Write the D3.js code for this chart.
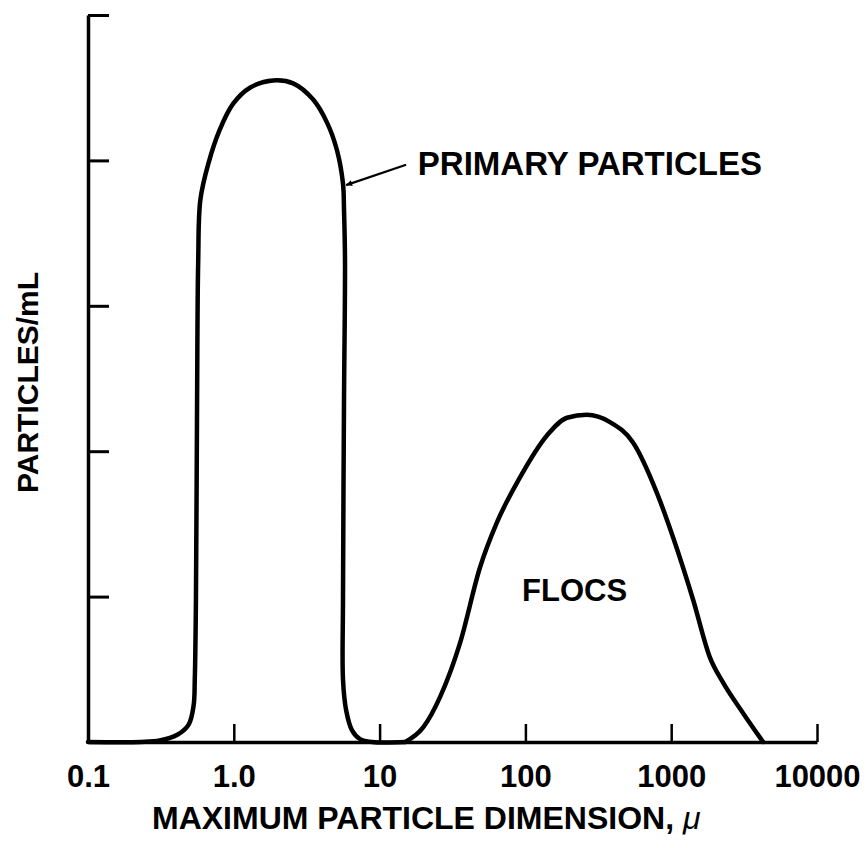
<!DOCTYPE html>
<html>
<head>
<meta charset="utf-8">
<script src="https://cdn.jsdelivr.net/npm/d3@7"></script>
<style>
  body { margin: 0; background: #fff; }
  svg text { font-family: "Liberation Sans", Arial, Helvetica, sans-serif; font-weight: bold; fill: #000; }
</style>
</head>
<body>
<svg id="chart"></svg>
<script>
// particle size (microns) and relative count
const primarySize = [0.1, 0.23, 0.31, 0.41, 0.49, 0.53, 0.54, 0.55, 0.56, 0.57, 0.59, 0.67, 0.80, 0.99, 1.29, 1.86, 2.55, 3.49, 4.36, 5.10, 5.61, 5.70, 5.79, 5.70, 5.61, 5.61, 5.89, 6.47, 7.34, 8.9, 15.0];
const primaryCount = [0, 0, 0.01, 0.05, 0.12, 0.25, 0.43, 0.98, 2.35, 3.31, 3.73, 3.98, 4.21, 4.39, 4.50, 4.55, 4.53, 4.42, 4.26, 4.07, 3.84, 3.66, 3.31, 2.35, 0.98, 0.43, 0.22, 0.08, 0.02, 0, 0];
const flocSize = [15.0, 19.9, 26.0, 35.6, 48.8, 63.8, 91.8, 141, 193, 264, 380, 547, 800, 1028, 1412, 1845, 2265, 3105, 4270];
const flocCount = [0, 0.10, 0.31, 0.68, 1.20, 1.51, 1.82, 2.11, 2.23, 2.25, 2.20, 2.06, 1.71, 1.41, 0.98, 0.58, 0.41, 0.20, 0];

const xTicks = [0.1, 1, 10, 100, 1000, 10000];
const xTickLabels = ["0.1", "1.0", "10", "100", "1000", "10000"];
const yTicks = [1, 2, 3, 4, 5];

const labels = [
  { text: "PRIMARY PARTICLES", x: 18.3, y: 3.90, size: 33 },
  { text: "FLOCS", x: 94.8, y: 0.97, size: 31 }
];
const arrowFrom = { x: 15.2, y: 3.97 };
const arrowTo = { x: 5.89, y: 3.83 };

const width = 867, height = 848;
const margin = { top: 15, right: 50, bottom: 106, left: 88 };

const svg = d3.select("#chart").attr("width", width).attr("height", height);

const x = d3.scaleLog().domain([0.1, 10000]).range([margin.left, width - margin.right]);
const y = d3.scaleLinear().domain([0, 5]).range([height - margin.bottom, margin.top]);

// axes
const xAxis = svg.append("g")
  .attr("transform", `translate(0,${y(0)})`)
  .call(d3.axisBottom(x).tickValues(xTicks).tickSize(-18).tickSizeOuter(0)
    .tickFormat((d, i) => xTickLabels[i]));
xAxis.select(".domain").attr("stroke-width", 3.5);
xAxis.selectAll(".tick line").attr("stroke-width", 2.5);
xAxis.selectAll(".tick text")
  .attr("y", 45).attr("dy", null)
  .style("font-size", "31px");

const yAxis = svg.append("g")
  .attr("transform", `translate(${x(0.1)},0)`)
  .call(d3.axisLeft(y).tickValues(yTicks).tickSize(-21).tickSizeOuter(0).tickFormat(""));
yAxis.select(".domain").attr("stroke-width", 3.5);
yAxis.selectAll(".tick line").attr("stroke-width", 3);

// axis titles
svg.append("text")
  .attr("x", 152).attr("y", 829)
  .style("font-size", "32px")
  .text("MAXIMUM PARTICLE DIMENSION, ")
  .append("tspan")
  .style("font-style", "italic").style("font-weight", "normal")
  .text("\u03bc");

svg.append("text")
  .attr("transform", `translate(38,${(y(0) + y(5)) / 2 + 4}) rotate(-90)`)
  .attr("text-anchor", "middle")
  .style("font-size", "30px")
  .text("PARTICLES/mL");

// size distribution curves
const line = d3.line()
  .x((d) => x(d[0]))
  .y((d) => y(d[1]));

const series = [
  { pts: d3.zip(primarySize, primaryCount), curve: d3.curveCatmullRom.alpha(0.5) },
  { pts: d3.zip(flocSize, flocCount), curve: d3.curveMonotoneX }
];

svg.selectAll(".curve")
  .data(series)
  .join("path")
  .attr("class", "curve")
  .attr("fill", "none")
  .attr("stroke", "#000")
  .attr("stroke-width", 4.5)
  .attr("stroke-linejoin", "round")
  .attr("stroke-linecap", "round")
  .attr("d", (d) => line.curve(d.curve)(d.pts));

// annotations
svg.append("defs").append("marker")
  .attr("id", "head")
  .attr("viewBox", "0 0 10 10")
  .attr("refX", 10).attr("refY", 5)
  .attr("markerWidth", 10).attr("markerHeight", 6)
  .attr("markerUnits", "userSpaceOnUse")
  .attr("orient", "auto")
  .append("path").attr("d", "M0,0L10,5L0,10z").attr("fill", "#000");

svg.append("line")
  .attr("x1", x(arrowFrom.x)).attr("y1", y(arrowFrom.y))
  .attr("x2", x(arrowTo.x)).attr("y2", y(arrowTo.y))
  .attr("stroke", "#000").attr("stroke-width", 2.2)
  .attr("marker-end", "url(#head)");

svg.selectAll(".label")
  .data(labels)
  .join("text")
  .attr("class", "label")
  .attr("x", (d) => x(d.x))
  .attr("y", (d) => y(d.y))
  .style("font-size", (d) => d.size + "px")
  .text((d) => d.text);
</script>
</body>
</html>
